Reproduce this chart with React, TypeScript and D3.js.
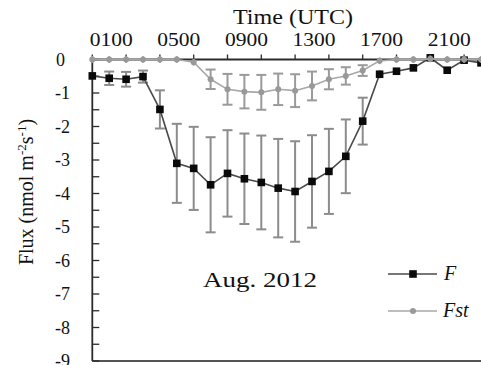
import React, { useEffect, useRef } from 'react';
import * as d3 from 'd3';

// hourly means, Aug. 2012 (index = hour UTC)
const hours = [0, 1, 2, 3, 4, 5, 6, 7, 8, 9, 10, 11, 12, 13, 14, 15, 16, 17, 18, 19, 20, 21, 22, 23];
const fluxF = [-0.49, -0.56, -0.59, -0.51, -1.49, -3.1, -3.25, -3.74, -3.4, -3.56, -3.67, -3.84, -3.94, -3.64, -3.34, -2.89, -1.84, -0.44, -0.35, -0.25, 0.05, -0.32, -0.02, -0.1];
const errF = [0.05, 0.2, 0.22, 0.18, 0.57, 1.18, 1.24, 1.42, 1.29, 1.35, 1.4, 1.47, 1.5, 1.38, 1.27, 1.1, 0.7, 0.12, 0.08, 0.06, 0.05, 0.08, 0.05, 0.05];
const fluxFst = [0, 0, 0, 0, 0, 0, -0.08, -0.59, -0.89, -0.96, -0.98, -0.89, -0.93, -0.79, -0.59, -0.49, -0.33, -0.04, 0, 0, 0.02, 0, 0, 0];
const errFst = [0.1, 0.1, 0.1, 0.1, 0.1, 0.1, 0.1, 0.29, 0.46, 0.5, 0.52, 0.47, 0.49, 0.43, 0.3, 0.26, 0.16, 0.1, 0.1, 0.1, 0.1, 0.1, 0.1, 0.1];
const xTickHours = [0, 2, 4, 6, 8, 10, 12, 14, 16, 18, 20, 22];
const xLabelHours = [1, 5, 9, 13, 17, 21];
const xLabels = ['0100', '0500', '0900', '1300', '1700', '2100'];
const yTicks = [0, -1, -2, -3, -4, -5, -6, -7, -8, -9];

const FONT = '"Liberation Serif", "Times New Roman", serif';

const FluxChart: React.FC = () => {
  const svgRef = useRef<SVGSVGElement | null>(null);

  useEffect(() => {
    if (!svgRef.current) return;
    const width = 481;
    const svg = d3.select(svgRef.current);
    svg.selectAll('*').remove();

    const x = d3.scaleLinear().domain([0, 23]).range([92.3, 481]);
    const y = d3.scaleLinear().domain([0, -9]).range([59.5, 361]);
    const g = svg.append('g');
    const axisColor = '#2b2b2b';

    // --- axes ---
    g.append('line').attr('x1', x(0)).attr('x2', width).attr('y1', y(0)).attr('y2', y(0))
      .attr('stroke', axisColor).attr('stroke-width', 1.8);
    g.append('line').attr('x1', x(0)).attr('x2', width).attr('y1', y(-9)).attr('y2', y(-9))
      .attr('stroke', '#555').attr('stroke-width', 1.8);
    g.append('line').attr('x1', x(0)).attr('x2', x(0)).attr('y1', y(0)).attr('y2', y(-9))
      .attr('stroke', axisColor).attr('stroke-width', 1.8);

    // top ticks (pointing up)
    g.selectAll('.xt').data(xTickHours).enter().append('line')
      .attr('x1', d => x(d)).attr('x2', d => x(d))
      .attr('y1', y(0)).attr('y2', y(0) - 5)
      .attr('stroke', axisColor).attr('stroke-width', 1.3);

    // left ticks (inside), majors and halves
    const yMinor = d3.range(0, -9.01, -0.5);
    g.selectAll('.yt').data(yMinor).enter().append('line')
      .attr('x1', x(0)).attr('x2', x(0) + 7)
      .attr('y1', d => y(d)).attr('y2', d => y(d))
      .attr('stroke', axisColor).attr('stroke-width', 1.3);

    g.selectAll('.xl').data(xLabelHours).enter().append('text')
      .attr('x', d => x(d) + 2).attr('y', 45.5)
      .attr('text-anchor', 'middle').attr('font-family', FONT).attr('font-size', 18)
      .attr('textLength', 43).attr('lengthAdjust', 'spacingAndGlyphs')
      .attr('fill', '#111').text((_d, i) => xLabels[i]);

    g.selectAll('.yl').data(yTicks).enter().append('text')
      .attr('x', d => (d === 0 ? 65 : 70)).attr('y', d => y(d) + 6)
      .attr('text-anchor', 'end').attr('font-family', FONT).attr('font-size', 18)
      .attr('fill', '#111').text(d => d);

    g.append('text').attr('x', 293).attr('y', 24).attr('text-anchor', 'middle')
      .attr('font-family', FONT).attr('font-size', 20)
      .attr('textLength', 120).attr('lengthAdjust', 'spacingAndGlyphs')
      .attr('fill', '#111').text('Time (UTC)');

    const yt = g.append('text')
      .attr('transform', 'translate(33,192) rotate(-90)')
      .attr('text-anchor', 'middle').attr('font-family', FONT).attr('font-size', 20)
      .attr('fill', '#111');
    yt.append('tspan').text('Flux (nmol m');
    yt.append('tspan').attr('font-size', 13).attr('dy', -7).text('-2');
    yt.append('tspan').attr('dy', 7).text('s');
    yt.append('tspan').attr('font-size', 13).attr('dy', -7).text('-1');
    yt.append('tspan').attr('dy', 7).text(')');

    // error bars; tiny ones drawn without caps (they read as "+" in the original)
    const drawErr = (vals: number[], errs: number[], color: string) => {
      const eg = g.append('g').attr('stroke', color).attr('stroke-width', 2);
      hours.forEach((h, i) => {
        const top = y(vals[i] + errs[i]);
        const bot = y(vals[i] - errs[i]);
        const cap = errs[i] < 0.15 ? 0 : 5;
        eg.append('line').attr('x1', x(h)).attr('x2', x(h)).attr('y1', top).attr('y2', bot);
        if (cap > 0) {
          eg.append('line').attr('x1', x(h) - cap).attr('x2', x(h) + cap).attr('y1', top).attr('y2', top);
          eg.append('line').attr('x1', x(h) - cap).attr('x2', x(h) + cap).attr('y1', bot).attr('y2', bot);
        }
      });
    };

    const line = d3.line<number>().x((_d, i) => x(hours[i])).y(d => y(d));

    // --- F series ---
    drawErr(fluxF, errF, '#8c8c8c');
    g.append('path').datum(fluxF).attr('d', line).attr('fill', 'none')
      .attr('stroke', '#4a4a4a').attr('stroke-width', 1.6);
    g.selectAll('.fm').data(fluxF).enter().append('rect')
      .attr('x', (_d, i) => x(hours[i]) - 3.8).attr('y', d => y(d) - 3.8)
      .attr('width', 7.6).attr('height', 7.6).attr('fill', '#0a0a0a');

    // --- Fst series ---
    drawErr(fluxFst, errFst, '#9a9a9a');
    g.append('path').datum(fluxFst).attr('d', line).attr('fill', 'none')
      .attr('stroke', '#a8a8a8').attr('stroke-width', 1.6);
    g.selectAll('.sm').data(fluxFst).enter().append('circle')
      .attr('cx', (_d, i) => x(hours[i])).attr('cy', d => y(d))
      .attr('r', 3).attr('fill', '#999');

    // --- annotation & legend ---
    g.append('text').attr('x', 260).attr('y', 286.5).attr('text-anchor', 'middle')
      .attr('font-family', FONT).attr('font-size', 21)
      .attr('textLength', 114).attr('lengthAdjust', 'spacingAndGlyphs')
      .attr('fill', '#111').text('Aug. 2012');

    const lg = g.append('g');
    lg.append('line').attr('x1', 388).attr('x2', 437).attr('y1', 274).attr('y2', 274)
      .attr('stroke', '#4a4a4a').attr('stroke-width', 1.4);
    lg.append('rect').attr('x', 413 - 3.8).attr('y', 274 - 3.8).attr('width', 7.6).attr('height', 7.6).attr('fill', '#0a0a0a');
    lg.append('text').attr('x', 444).attr('y', 280).attr('font-family', FONT).attr('font-style', 'italic')
      .attr('font-size', 20).attr('fill', '#111').text('F');
    lg.append('line').attr('x1', 388).attr('x2', 437).attr('y1', 311).attr('y2', 311)
      .attr('stroke', '#a8a8a8').attr('stroke-width', 1.4);
    lg.append('circle').attr('cx', 413).attr('cy', 311).attr('r', 3).attr('fill', '#999');
    lg.append('text').attr('x', 443).attr('y', 317).attr('font-family', FONT).attr('font-style', 'italic')
      .attr('font-size', 20).attr('fill', '#111').text('Fst');
  }, []);

  return (
    <div style={{ position: 'absolute', left: 0, top: 0, background: '#fff' }}>
      <svg ref={svgRef} width="481" height="365" style={{ display: 'block' }}></svg>
    </div>
  );
};

export default FluxChart;
